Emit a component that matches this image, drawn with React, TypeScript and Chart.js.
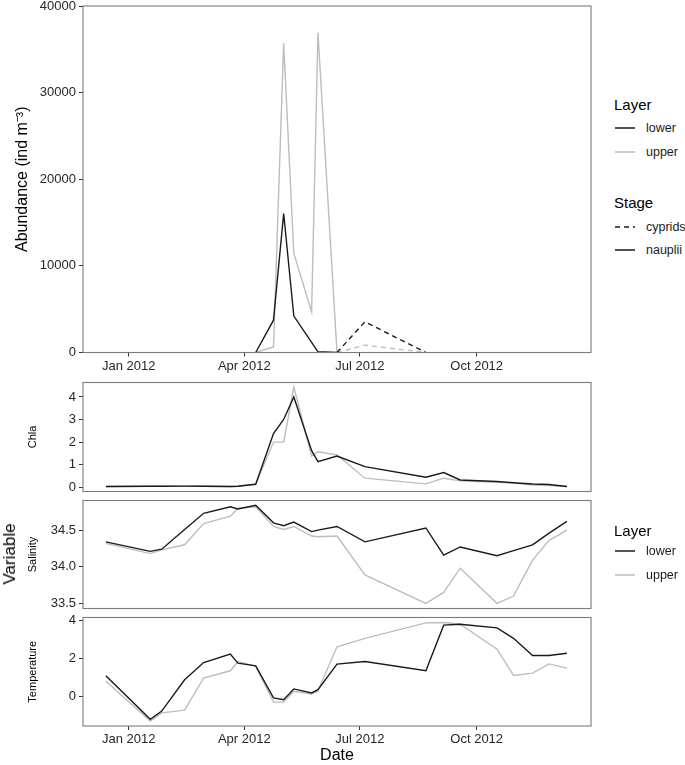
import React, { useEffect, useRef } from "react";
import { Chart, registerables } from "chart.js";

Chart.register(...registerables);

// ---------------- data ----------------
const DATES = [
  "2011-12-14", "2012-01-18", "2012-01-27", "2012-02-14", "2012-02-29", "2012-03-21",
  "2012-03-27", "2012-04-10", "2012-04-24", "2012-05-02", "2012-05-10", "2012-05-24",
  "2012-05-29", "2012-06-13", "2012-07-05", "2012-08-22", "2012-09-05", "2012-09-18",
  "2012-10-17", "2012-10-30", "2012-11-14", "2012-11-27", "2012-12-11",
];

const X_START = "2011-11-26";
const X_END = "2012-12-30";
const TICK_DATES = ["2012-01-01", "2012-04-01", "2012-07-01", "2012-10-01"];
const TICK_LABELS = ["Jan 2012", "Apr 2012", "Jul 2012", "Oct 2012"];

const N = null;
const NAUPLII_LOWER = [N, N, N, N, N, N, N, 0, 3730, 16050, 4200, 1160, 80, 0, N, N, N, N, N, N, N, N, N];
const NAUPLII_UPPER = [N, N, N, N, N, N, N, 0, 650, 35700, 11430, 4700, 36900, 0, N, N, N, N, N, N, N, N, N];
const CYPRIDS_LOWER = [N, N, N, N, N, N, N, N, N, N, N, N, N, 0, 3540, 0, N, N, N, N, N, N, N];
const CYPRIDS_UPPER = [N, N, N, N, N, N, N, N, N, N, N, N, N, 0, 850, 0, N, N, N, N, N, N, N];

const CHLA_LOWER = [0.03, 0.04, 0.04, 0.05, 0.04, 0.03, 0.04, 0.13, 2.38, 3.0, 4.0, 1.62, 1.13, 1.38, 0.91, 0.44, 0.65, 0.32, 0.25, 0.2, 0.14, 0.12, 0.03];
const CHLA_UPPER = [0.03, 0.04, 0.05, 0.05, 0.04, 0.03, 0.04, 0.15, 2.0, 2.0, 4.44, 1.38, 1.57, 1.43, 0.4, 0.15, 0.4, 0.28, 0.22, 0.18, 0.1, 0.07, 0.03];

const SAL_LOWER = [34.34, 34.21, 34.24, 34.51, 34.73, 34.82, 34.79, 34.84, 34.6, 34.56, 34.61, 34.48, 34.5, 34.55, 34.34, 34.53, 34.16, 34.27, 34.15, 34.22, 34.3, 34.46, 34.62];
const SAL_UPPER = [34.32, 34.18, 34.23, 34.3, 34.59, 34.69, 34.8, 34.82, 34.55, 34.51, 34.55, 34.42, 34.41, 34.42, 33.89, 33.5, 33.65, 33.98, 33.5, 33.6, 34.09, 34.36, 34.5];

const TEMP_LOWER = [1.09, -1.19, -0.76, 0.88, 1.78, 2.23, 1.75, 1.61, -0.07, -0.16, 0.4, 0.19, 0.36, 1.7, 1.84, 1.35, 3.74, 3.79, 3.6, 3.05, 2.15, 2.15, 2.27];
const TEMP_UPPER = [0.8, -1.28, -0.85, -0.71, 0.97, 1.35, 1.84, 1.58, -0.29, -0.29, 0.28, 0.14, 0.3, 2.61, 3.05, 3.86, 3.88, 3.79, 2.48, 1.11, 1.23, 1.71, 1.49];

const ABUND_TICKS = [0, 10000, 20000, 30000, 40000];
const CHLA_TICKS = [0, 1, 2, 3, 4];
const SAL_TICKS = [33.5, 34.0, 34.5];
const TEMP_TICKS = [0, 2, 4];

// ---------------- styling ----------------
const BLACK = "#1a1a1a";
const GREY = "#bdbdbd";
const FONT = "'Liberation Sans', Arial, Helvetica, sans-serif";
const BORDER = "#7a7a7a";
const TICK_COLOR = "#333333";
const TICK_LABEL_COLOR = "#262626";
const PLOT_LEFT = 83;
const PLOT_RIGHT = 591;

const dayOf = (s: string) => (Date.parse(s) - Date.parse("2012-01-01")) / 86400000;
const TICK_DAYS = TICK_DATES.map(dayOf);

const series = (arr: (number | null)[]) => DATES.map((d, i) => ({ x: dayOf(d), y: arr[i] }));

const line = (label: string, arr: (number | null)[], color: string, dashed = false) => ({
  label,
  data: series(arr),
  borderColor: color,
  backgroundColor: color,
  borderWidth: 1.4,
  borderDash: dashed ? [5, 4] : [],
  pointRadius: 0,
  tension: 0,
  spanGaps: false,
  fill: false,
});

const borderPlugin = {
  id: "panelBorder",
  afterDatasetsDraw(chart: any) {
    const { ctx, chartArea: a } = chart;
    ctx.save();
    ctx.strokeStyle = BORDER;
    ctx.lineWidth = 1.1;
    ctx.strokeRect(a.left, a.top, a.right - a.left, a.bottom - a.top);
    ctx.restore();
  },
};

type PanelOpts = {
  datasets: any[];
  yMin: number;
  yMax: number;
  yTicks: number[];
  yFmt: (v: number) => string;
  yTitle: string;
  yTitleSize: number;
  yTitlePad: number;
  showX: boolean;
  xTitle?: string;
  xHeight: number;
  padTop: number;
  padBottom: number;
};

function makeConfig(o: PanelOpts): any {
  return {
    type: "line",
    data: { datasets: o.datasets },
    plugins: [borderPlugin],
    options: {
      responsive: false,
      maintainAspectRatio: false,
      animation: false,
      devicePixelRatio: 1,
      layout: { padding: { left: 0, right: 600 - PLOT_RIGHT, top: o.padTop, bottom: o.padBottom } },
      plugins: { legend: { display: false }, tooltip: { enabled: false } },
      scales: {
        x: {
          type: "linear",
          min: dayOf(X_START),
          max: dayOf(X_END),
          display: o.showX,
          afterBuildTicks: (s: any) => {
            s.ticks = TICK_DAYS.map((v) => ({ value: v }));
          },
          ticks: {
            autoSkip: false,
            maxRotation: 0,
            padding: 2,
            color: TICK_LABEL_COLOR,
            font: { size: 13, family: FONT },
            callback: (v: number) => {
              const i = TICK_DAYS.indexOf(v);
              return i >= 0 ? TICK_LABELS[i] : "";
            },
          },
          grid: { drawOnChartArea: false, drawTicks: true, tickLength: 4, color: TICK_COLOR, lineWidth: 1 },
          border: { display: false },
          title: o.xTitle
            ? { display: true, text: o.xTitle, color: "#000", font: { size: 16, family: FONT }, padding: { top: 0, bottom: 0 } }
            : { display: false },
          afterFit: (s: any) => {
            s.height = o.xHeight;
            s.paddingLeft = 0;
            s.paddingRight = 0;
          },
        },
        y: {
          type: "linear",
          position: "left",
          min: o.yMin,
          max: o.yMax,
          afterBuildTicks: (s: any) => {
            s.ticks = o.yTicks.map((v) => ({ value: v }));
          },
          ticks: {
            padding: 3,
            color: TICK_LABEL_COLOR,
            font: { size: 13, family: FONT },
            callback: (v: number) => o.yFmt(v),
          },
          grid: { drawOnChartArea: false, drawTicks: true, tickLength: 4, color: TICK_COLOR, lineWidth: 1 },
          border: { display: false },
          title: {
            display: true,
            text: o.yTitle,
            color: "#000",
            font: { size: o.yTitleSize, family: FONT },
            padding: { top: o.yTitlePad, bottom: 0 },
          },
          afterFit: (s: any) => {
            s.width = PLOT_LEFT;
            s.paddingTop = 0;
            s.paddingBottom = 0;
          },
        },
      },
    },
  };
}

function Panel(props: { top: number; height: number; opts: PanelOpts }) {
  const ref = useRef<HTMLCanvasElement>(null);
  useEffect(() => {
    if (!ref.current) return;
    const chart = new Chart(ref.current, makeConfig(props.opts));
    return () => chart.destroy();
  }, []);
  return (
    <canvas
      ref={ref}
      width={600}
      height={props.height}
      style={{ position: "absolute", left: 0, top: props.top, width: 600, height: props.height }}
    />
  );
}

function LegendKey(props: { x: number; y: number; color: string; dashed?: boolean; label: string }) {
  return (
    <>
      <svg
        width={22}
        height={6}
        style={{ position: "absolute", left: props.x, top: props.y - 3 }}
      >
        <line
          x1={1}
          y1={3}
          x2={21}
          y2={3}
          stroke={props.color}
          strokeWidth={1.5}
          strokeDasharray={props.dashed ? "5 4" : undefined}
        />
      </svg>
      <div
        style={{
          position: "absolute",
          left: props.x + 32,
          top: props.y - 8,
          height: 16,
          lineHeight: "16px",
          fontSize: 12.5,
          color: "#1a1a1a",
          fontFamily: FONT,
          whiteSpace: "nowrap",
        }}
      >
        {props.label}
      </div>
    </>
  );
}

function LegendTitle(props: { x: number; y: number; text: string }) {
  return (
    <div
      style={{
        position: "absolute",
        left: props.x,
        top: props.y - 9,
        height: 18,
        lineHeight: "18px",
        fontSize: 15,
        color: "#000",
        fontFamily: FONT,
        whiteSpace: "nowrap",
      }}
    >
      {props.text}
    </div>
  );
}

export default function App() {
  const fmtInt = (v: number) => String(v);
  const fmt1 = (v: number) => v.toFixed(1);

  const top: PanelOpts = {
    datasets: [
      line("nauplii lower", NAUPLII_LOWER, BLACK),
      line("cyprids lower", CYPRIDS_LOWER, BLACK, true),
      line("nauplii upper", NAUPLII_UPPER, GREY),
      line("cyprids upper", CYPRIDS_UPPER, GREY, true),
    ],
    yMin: 0,
    yMax: 40000,
    yTicks: ABUND_TICKS,
    yFmt: fmtInt,
    yTitle: "Abundance (ind m\u207B\u00B3)",
    yTitleSize: 16,
    yTitlePad: 13,
    showX: true,
    xHeight: 27.5,
    padTop: 6,
    padBottom: 0,
  };

  const chla: PanelOpts = {
    datasets: [line("lower", CHLA_LOWER, BLACK), line("upper", CHLA_UPPER, GREY)],
    yMin: -0.19,
    yMax: 4.64,
    yTicks: CHLA_TICKS,
    yFmt: fmtInt,
    yTitle: "Chla",
    yTitleSize: 11,
    yTitlePad: 26,
    showX: false,
    xHeight: 0,
    padTop: 10.5,
    padBottom: 10.5,
  };

  const sal: PanelOpts = {
    datasets: [line("lower", SAL_LOWER, BLACK), line("upper", SAL_UPPER, GREY)],
    yMin: 33.43,
    yMax: 34.905,
    yTicks: SAL_TICKS,
    yFmt: fmt1,
    yTitle: "Salinity",
    yTitleSize: 11,
    yTitlePad: 26,
    showX: false,
    xHeight: 0,
    padTop: 8.5,
    padBottom: 8.5,
  };

  const temp: PanelOpts = {
    datasets: [line("lower", TEMP_LOWER, BLACK), line("upper", TEMP_UPPER, GREY)],
    yMin: -1.54,
    yMax: 4.14,
    yTicks: TEMP_TICKS,
    yFmt: fmtInt,
    yTitle: "Temperature",
    yTitleSize: 11,
    yTitlePad: 26,
    showX: true,
    xTitle: "Date",
    xHeight: 39,
    padTop: 8.5,
    padBottom: 0,
  };

  return (
    <div style={{ position: "absolute", left: 0, top: 0, width: 685, height: 765, background: "#fff", overflow: "hidden" }}>
      <Panel top={0} height={380} opts={top} />
      <Panel top={372} height={130} opts={chla} />
      <Panel top={492} height={125} opts={sal} />
      <Panel top={609} height={156} opts={temp} />

      <div
        style={{
          position: "absolute",
          left: 10,
          top: 554,
          transform: "translate(-50%, -50%) rotate(-90deg)",
          fontSize: 17,
          fontFamily: FONT,
          color: "#000",
          whiteSpace: "nowrap",
          lineHeight: "20px",
        }}
      >
        Variable
      </div>

      <LegendTitle x={614} y={105} text="Layer" />
      <LegendKey x={614} y={128} color={BLACK} label="lower" />
      <LegendKey x={614} y={152} color={GREY} label="upper" />
      <LegendTitle x={614} y={203} text="Stage" />
      <LegendKey x={614} y={227} color={BLACK} dashed label="cyprids" />
      <LegendKey x={614} y={250} color={BLACK} label="nauplii" />

      <LegendTitle x={614} y={531} text="Layer" />
      <LegendKey x={614} y={551} color={BLACK} label="lower" />
      <LegendKey x={614} y={575} color={GREY} label="upper" />
    </div>
  );
}
